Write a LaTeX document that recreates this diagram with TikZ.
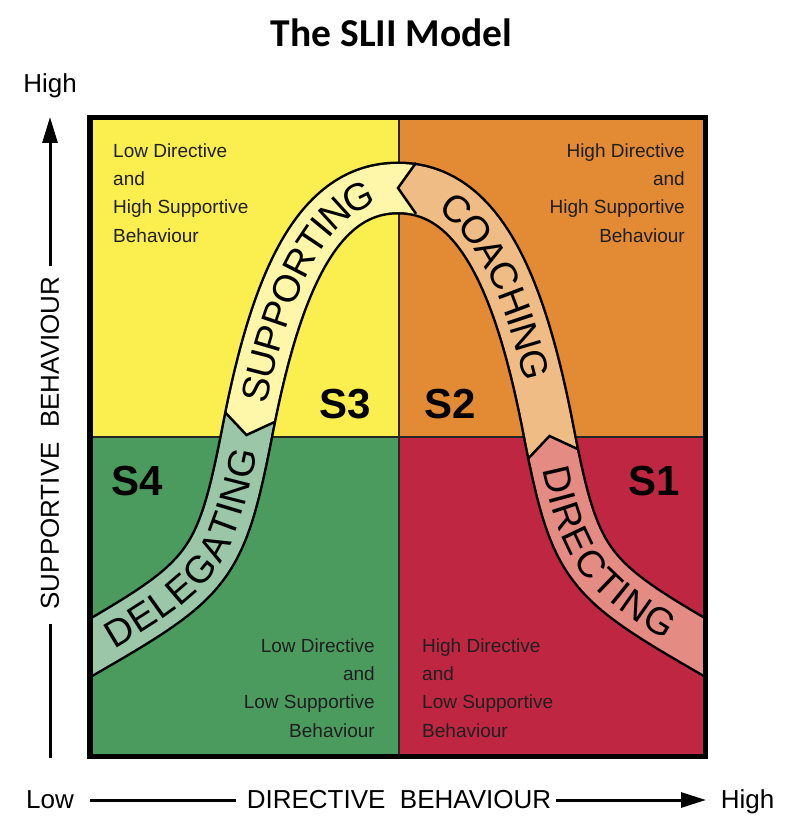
\documentclass[tikz,border=0pt]{standalone}
\usepackage{fontspec}
\setmainfont{Liberation Sans}
\newfontfamily\titlefont{Carlito}
\usetikzlibrary{arrows.meta,decorations.text}

\definecolor{qyellow}{HTML}{FBEF50}
\definecolor{qorange}{HTML}{E38A35}
\definecolor{qgreen}{HTML}{4B9A5E}
\definecolor{qred}{HTML}{BF2642}
\definecolor{supcol}{HTML}{FEF6A9}
\definecolor{coacol}{HTML}{F0BC85}
\definecolor{delcol}{HTML}{9BC7A8}
\definecolor{dircol}{HTML}{E48C84}
\newcommand\bandfont{\fontsize{38}{38}\selectfont}
% centre line of the band, left to right
\def\bandline{(38,678) -- (90,648) .. controls (211,578) and (221.4,565) .. (248,428) .. controls (276.5,281) and (318,188) .. (398,188) .. controls (478,188) and (519.5,281) .. (548,428) .. controls (574.6,565) and (585,578) .. (706,648) -- (758,678)}

\begin{document}
\begin{tikzpicture}[x=1pt, y=-1pt,
  quad/.style={font=\fontsize{19}{28.3}\selectfont, text=black!88, inner sep=0pt},
  slabel/.style={font=\fontsize{42}{42}\selectfont\bfseries, inner sep=0pt},
  axis/.style={font=\fontsize{26}{26}\selectfont, inner sep=0pt},
  bandtext/.style={decorate, decoration={text along path, text align=center, raise=-13.5pt}},
  chevron/.style={line width=2.5pt, line join=miter}]
\useasboundingbox (0,0) rectangle (800,837);

\node [font=\titlefont\bfseries\fontsize{39.5}{39.5}\selectfont, anchor=base] (title) at (391.5,47) {The SLII Model};

% quadrants
\fill [qyellow] (90,117) rectangle (398.5,436.5);
\fill [qorange] (398.5,117) rectangle (705,436.5);
\fill [qgreen] (90,436.5) rectangle (398.5,757);
\fill [qred] (398.5,436.5) rectangle (705,757);
\draw [line width=2pt, black!85] (398.5,117) -- (398.5,757);
\draw [line width=2pt, black!85] (90,436.5) -- (705,436.5);

\begin{scope}
\clip (90,117) rectangle (705,757);
\draw [line width=53pt] \bandline;
\begin{scope}
\clip (0,378) -- (192.75,378) -- (246.5,435) -- (317.75,402) -- (398,402) -- (398,837) -- (0,837) -- cycle;
\draw [line width=48pt, delcol] \bandline;
\end{scope}
\begin{scope}
\clip (0,0) -- (443,0) -- (443,125) -- (398,188) -- (443,252.5) -- (443,402) -- (317.75,402) -- (246.5,435) -- (192.75,378) -- (0,378) -- cycle;
\draw [line width=48pt, supcol] \bandline;
\end{scope}
\begin{scope}
\clip (443,0) -- (800,0) -- (800,469) -- (620.75,469) -- (549.5,436) -- (495.75,493) -- (443,493) -- (443,252.5) -- (398,188) -- (443,125) -- cycle;
\draw [line width=48pt, coacol] \bandline;
\end{scope}
\begin{scope}
\clip (443,493) -- (495.75,493) -- (549.5,436) -- (620.75,469) -- (800,469) -- (800,837) -- (443,837) -- cycle;
\draw [line width=48pt, dircol] \bandline;
\end{scope}
\draw [chevron] (225,412.2) -- (246.5,435) -- (275,421.8);
\draw [chevron] (416,162.8) -- (398,188) -- (416,213.8);
\draw [chevron] (528,458.8) -- (549.5,436) -- (578,449.2);

\path [bandtext, decoration={text={|\bandfont|DELEGATING}}] (90,648) .. controls (211,578) and (221.4,565) .. (248,428);
\path [bandtext, decoration={text={|\bandfont|SUPPORTING}}] (248,428) .. controls (276.5,281) and (318,188) .. (398,188);
\path [bandtext, decoration={text={|\bandfont|COACHING}}] (398,188) .. controls (478,188) and (519.5,281) .. (548,428);
\path [bandtext, decoration={text={|\bandfont|DIRECTING}}] (548,428) .. controls (574.6,565) and (585,578) .. (706,648);
\end{scope}

\node [quad, anchor=north west, align=left] (tltext) at (113,143.4) {Low Directive\\and\\High Supportive\\Behaviour};
\node [quad, anchor=north east, align=right] (trtext) at (685,143.4) {High Directive\\and\\High Supportive\\Behaviour};
\node [quad, anchor=north east, align=right] (bltext) at (375,638.4) {Low Directive\\and\\Low Supportive\hspace*{5pt}\\Behaviour};
\node [quad, anchor=north west, align=left] (brtext) at (422,638.4) {High Directive\\and\\Low Supportive\\Behaviour};

\node [slabel] (s3) at (345,404) {S3};
\node [slabel] (s2) at (450,404) {S2};
\node [slabel] (s4) at (137.5,481) {S4};
\node [slabel] (s1) at (654.5,481) {S1};

\draw [line width=5.5pt] (90,117.5) rectangle (705.5,756.5);

% axes
\node [axis, anchor=base] (yhigh) at (50,93) {High};
\node [axis, rotate=90] (ylab) at (50,443) {SUPPORTIVE\ \ BEHAVIOUR};
\node [axis, anchor=base] (xlow) at (50,808) {Low};
\node [axis] (xlab) at (399,800) {DIRECTIVE\ \ BEHAVIOUR};
\node [axis, anchor=base] (xhigh) at (747.5,808) {High};
\coordinate (ytip) at (50,117);
\coordinate (ybot) at (50,758);
\coordinate (xleft) at (90,800);
\coordinate (xtip) at (706,800);
\draw [line width=3pt, shorten <=10pt, -{Triangle[length=26pt,width=15pt]}] (ylab.east) -- (ytip);
\draw [line width=3pt, shorten <=14pt] (ylab.west) -- (ybot);
\draw [line width=3pt, shorten <=11pt] (xlab.west) -- (xleft);
\draw [line width=3pt, shorten <=5pt, -{Triangle[length=25pt,width=15pt]}] (xlab.east) -- (xtip);

\end{tikzpicture}
\end{document}
